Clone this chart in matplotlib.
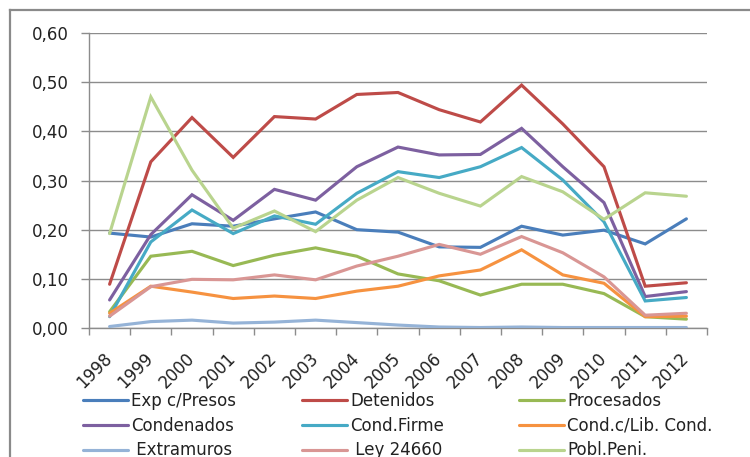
import matplotlib
matplotlib.use("Agg")
import matplotlib.pyplot as plt
from matplotlib.lines import Line2D
import numpy as np

years = ["1998", "1999", "2000", "2001", "2002", "2003", "2004", "2005",
         "2006", "2007", "2008", "2009", "2010", "2011", "2012"]

exp_presos = [0.193, 0.185, 0.212, 0.207, 0.222, 0.236, 0.200, 0.195,
              0.165, 0.164, 0.207, 0.189, 0.199, 0.171, 0.222]
detenidos = [0.089, 0.338, 0.428, 0.347, 0.430, 0.425, 0.475, 0.479,
             0.444, 0.419, 0.494, 0.415, 0.328, 0.085, 0.092]
procesados = [0.033, 0.146, 0.156, 0.127, 0.148, 0.163, 0.146, 0.110,
              0.096, 0.067, 0.089, 0.089, 0.070, 0.023, 0.018]
condenados = [0.057, 0.190, 0.271, 0.219, 0.282, 0.260, 0.328, 0.368,
              0.352, 0.353, 0.406, 0.328, 0.255, 0.064, 0.074]
cond_firme = [0.023, 0.175, 0.240, 0.192, 0.228, 0.211, 0.274, 0.318,
              0.306, 0.328, 0.367, 0.301, 0.216, 0.055, 0.062]
cond_lib = [0.030, 0.085, 0.073, 0.060, 0.065, 0.060, 0.075, 0.085,
            0.106, 0.118, 0.159, 0.108, 0.091, 0.023, 0.024]
extramuros = [0.003, 0.013, 0.016, 0.010, 0.012, 0.016, 0.011, 0.006,
              0.002, 0.001, 0.002, 0.001, 0.001, 0.001, 0.001]
ley_24660 = [0.024, 0.084, 0.099, 0.098, 0.108, 0.098, 0.126, 0.146,
             0.170, 0.150, 0.186, 0.153, 0.104, 0.026, 0.030]
pobl_peni = [0.192, 0.470, 0.321, 0.203, 0.238, 0.196, 0.260, 0.306,
             0.274, 0.248, 0.308, 0.277, 0.221, 0.275, 0.268]

series_names = ["Exp c/Presos", "Detenidos", "Procesados",
                "Condenados", "Cond.Firme", "Cond.c/Lib. Cond.",
                " Extramuros", " Ley 24660", "Pobl.Peni."]
series_values = [exp_presos, detenidos, procesados, condenados, cond_firme,
                 cond_lib, extramuros, ley_24660, pobl_peni]
colors = ["#4A7EBB", "#BE4B48", "#98B954", "#7D60A0", "#46AAC5",
          "#F69240", "#95B3D7", "#D99694", "#B9D48E"]

plt.rcParams['font.family'] = ['DejaVu Sans']

W, H = 750, 457
fig = plt.figure(figsize=(7.5, 4.57), dpi=100)
ax = fig.add_axes([89 / W, (H - 328) / H, 618 / W, 295 / H])

x = np.arange(len(years))
lines = []
for name, vals, c in zip(series_names, series_values, colors):
    ln, = ax.plot(x, vals, color=c, lw=2.25, label=name, solid_capstyle='round',
                  solid_joinstyle='miter', zorder=3)
    lines.append(ln)

grid_c = "#8c8c8c"
ax.set_xlim(-0.5, len(years) - 0.5)
ax.set_ylim(0, 0.6)
ax.set_yticks(np.arange(0, 0.61, 0.1))
ax.set_yticklabels([f"{v:.2f}".replace(".", ",") for v in np.arange(0, 0.61, 0.1)],
                   fontsize=12, color="#222222")
ax.yaxis.grid(True, color=grid_c, lw=1.0)
ax.set_axisbelow(True)

ax.set_xticks(x)
ax.set_xticklabels(years, rotation=45, ha='right', va='center',
                   rotation_mode='anchor', fontsize=12, color="#222222")
ax.set_xticks(np.arange(-0.5, len(years), 1.0), minor=True)
ax.tick_params(axis='x', which='major', length=0, pad=20)
ax.tick_params(axis='x', which='minor', length=5, color=grid_c, width=1)
ax.tick_params(axis='y', length=6, color=grid_c, width=1, pad=8.5)

for s in ['top', 'right']:
    ax.spines[s].set_visible(False)
for s in ['left', 'bottom']:
    ax.spines[s].set_color(grid_c)
    ax.spines[s].set_linewidth(1.0)

# legend in three columns
col_x = [83 / W, 302 / W, 519 / W]
top_y = (H - 392) / H
for ci in range(3):
    hs = [lines[ci + 3 * r] for r in range(3)]
    leg = fig.legend(handles=hs, labels=[h.get_label() for h in hs],
                     loc='upper left', bbox_to_anchor=(col_x[ci], top_y),
                     frameon=False, fontsize=12, borderpad=0, borderaxespad=0,
                     handlelength=2.7, handletextpad=0.2, labelspacing=0.4)
    for t in leg.get_texts():
        t.set_color("#222222")

# outer chart frame (cropped)
fx = 9.5 / W
fy = (H - 10) / H
fig.add_artist(Line2D([fx, fx], [0, fy], transform=fig.transFigure,
                      color="#8a8a8a", lw=1.6))
fig.add_artist(Line2D([fx, 1.0], [fy, fy], transform=fig.transFigure,
                      color="#8a8a8a", lw=1.6))

fig.savefig("out.png", dpi=100)
